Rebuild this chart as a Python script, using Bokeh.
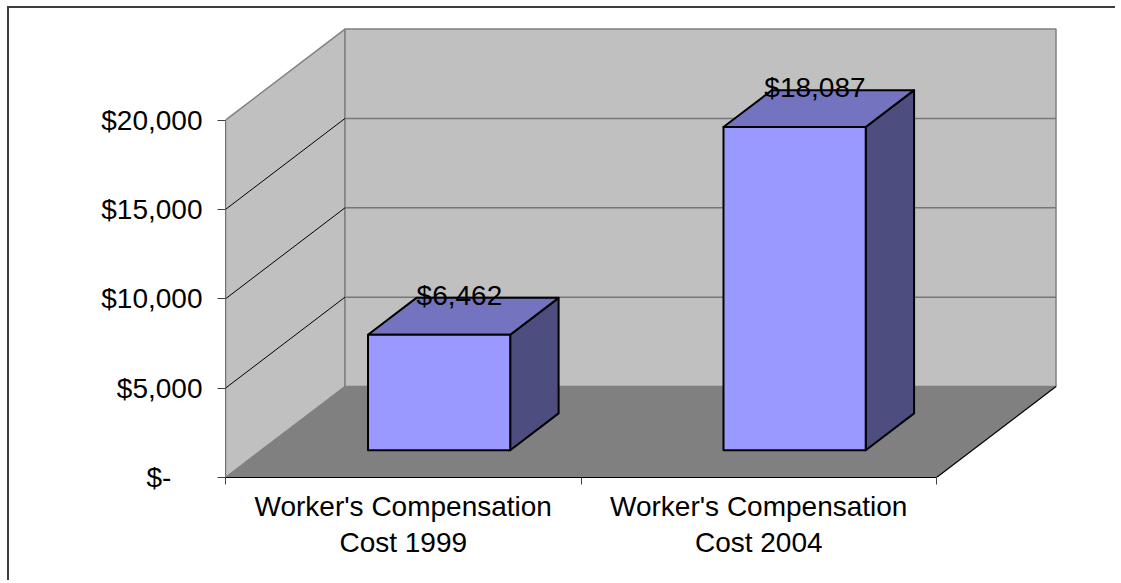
from bokeh.plotting import figure
from bokeh.models import Range1d, FixedTicker
from bokeh.embed import file_html
from bokeh.resources import INLINE

# ---- data ----
categories = ["Worker's Compensation\nCost 1999", "Worker's Compensation\nCost 2004"]
values = [6462, 18087]
value_labels = ["$6,462", "$18,087"]
y_ticks = [0, 5000, 10000, 15000, 20000]
y_tick_labels = ["$-\u00a0\u00a0\u00a0\u00a0", "$5,000", "$10,000", "$15,000", "$20,000"]

# ---- geometry / style constants ----
PX_PER_X = 355.5          # px per category on the front plane
PX_PER_Y = 89.35 / 5000   # px per dollar
FRAME_W, FRAME_H = 835, 452
X_END = FRAME_W / PX_PER_X
Y_END = FRAME_H / PX_PER_Y
DX = 119.5 / PX_PER_X     # depth offset (x units)
DY = 91.0 / PX_PER_Y      # depth offset (y units)
WALL_TOP = 20000
BAR_W = 0.40
F0, F1 = 0.30, 0.705      # bar depth (front, back) fractions
FONT = "Liberation Sans"
FS = "28px"

W, H = 1108, 574
ML, MT = 9, 8
p = figure(width=W, height=H,
           x_range=Range1d(0, X_END), y_range=Range1d(0, Y_END),
           output_backend="svg", toolbar_location=None,
           min_border_left=225 - ML, min_border_right=W - (225 - ML) - FRAME_W,
           min_border_top=25 - MT, min_border_bottom=H - (25 - MT) - FRAME_H,
           margin=(MT, 0, 0, ML),
           styles={"box-shadow": "-2px -2px 0 0 #3c3c3c"})
p.xgrid.visible = False
p.ygrid.visible = False
p.outline_line_color = None
p.background_fill_color = "white"
p.border_fill_color = "white"

ncat = len(categories)

# walls and floor
p.patch([0, 0, DX, DX], [0, WALL_TOP, WALL_TOP + DY, DY],
        fill_color="#C0C0C0", line_color="#808080", line_width=1.5)
p.patch([DX, DX, ncat + DX, ncat + DX], [DY, WALL_TOP + DY, WALL_TOP + DY, DY],
        fill_color="#C0C0C0", line_color="#808080", line_width=1.5)

grid_vals = [t for t in y_ticks if 0 < t < WALL_TOP]
p.segment(x0=[0] * len(grid_vals), y0=grid_vals,
          x1=[DX] * len(grid_vals), y1=[g + DY for g in grid_vals],
          line_color="black", line_width=1)
p.segment(x0=[DX] * len(grid_vals), y0=[g + DY for g in grid_vals],
          x1=[ncat + DX] * len(grid_vals), y1=[g + DY for g in grid_vals],
          line_color="#777777", line_width=1.5)

p.patch([0, ncat, ncat + DX, DX], [0, 0, DY, DY],
        fill_color="#808080", line_color=None)
p.segment(x0=[ncat], y0=[0], x1=[ncat + DX], y1=[DY], line_color="black", line_width=1.2)

# bars
front_xs, front_ys, top_xs, top_ys, side_xs, side_ys = [], [], [], [], [], []
for i, v in enumerate(values):
    x0 = i + 0.5 - BAR_W / 2
    x1 = i + 0.5 + BAR_W / 2
    s0, s1 = F0 * DX, F1 * DX
    b0, b1 = F0 * DY, F1 * DY
    front_xs.append([x0 + s0, x1 + s0, x1 + s0, x0 + s0])
    front_ys.append([b0, b0, v + b0, v + b0])
    top_xs.append([x0 + s0, x1 + s0, x1 + s1, x0 + s1])
    top_ys.append([v + b0, v + b0, v + b1, v + b1])
    side_xs.append([x1 + s0, x1 + s1, x1 + s1, x1 + s0])
    side_ys.append([b0, b1, v + b1, v + b0])

p.patches(side_xs, side_ys, fill_color="#4D4D80", line_color="black", line_width=2, line_join="round")
p.patches(top_xs, top_ys, fill_color="#7373BF", line_color="black", line_width=2, line_join="round")
p.patches(front_xs, front_ys, fill_color="#9999FF", line_color="black", line_width=2, line_join="round")

# value labels
p.text(x=[i + 0.5 + 0.47 * DX for i in range(ncat)],
       y=[v + 0.5 * DY for v in values],
       text=value_labels, text_align="center", text_baseline="middle",
       y_offset=-21, text_font_size=FS, text_color="black",
       text_font={"value": FONT})

# y axis
ya = p.yaxis[0]
ya.ticker = FixedTicker(ticks=y_ticks)
ya.major_label_overrides = {t: l for t, l in zip(y_ticks, y_tick_labels)}
ya.bounds = (0, WALL_TOP)
ya.axis_line_color = "#707070"
ya.major_tick_line_color = "#404040"
ya.major_tick_out = 8
ya.major_tick_in = 0
ya.minor_tick_line_color = None
ya.major_label_standoff = 15
ya.major_label_text_font = FONT
ya.major_label_text_font_size = FS
ya.major_label_text_color = "black"

# x axis
xa = p.xaxis[0]
xa.ticker = FixedTicker(ticks=[i + 0.5 for i in range(ncat)],
                        minor_ticks=list(range(ncat + 1)))
xa.major_label_overrides = {i + 0.5: c for i, c in enumerate(categories)}
xa.bounds = (0, ncat)
xa.axis_line_color = "black"
xa.major_tick_line_color = None
xa.major_tick_out = 7
xa.minor_tick_line_color = "#404040"
xa.minor_tick_out = 7
xa.minor_tick_in = 0
xa.major_label_standoff = 6
xa.major_label_text_font = FONT
xa.major_label_text_font_size = FS
xa.major_label_text_color = "black"
xa.major_label_text_line_height = 1.17

open("out.html", "w").write(file_html(p, INLINE))
